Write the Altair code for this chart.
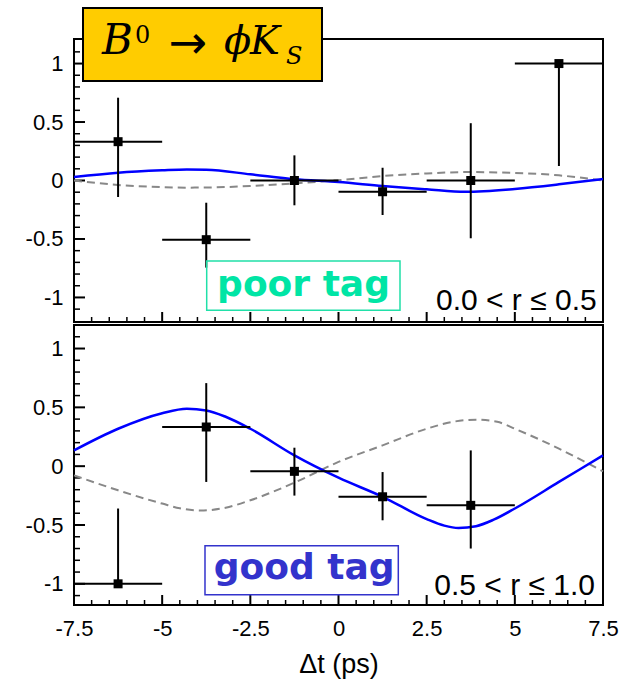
import altair as alt
import pandas as pd

# ---------------- data ----------------
bin_half_width = 1.25

poor_t = [-6.25, -3.75, -1.25, 1.25, 3.75, 6.25]
poor_val = [0.332, -0.506, 0.0, -0.096, 0.0, 1.0]
poor_hi = [0.708, -0.19, 0.215, 0.109, 0.49, 1.0]
poor_lo = [-0.141, -0.745, -0.212, -0.295, -0.494, 0.124]

good_t = [-6.25, -3.75, -1.25, 1.25, 3.75]
good_val = [-1.0, 0.333, -0.044, -0.26, -0.333]
good_hi = [-0.36, 0.706, 0.157, -0.05, 0.134]
good_lo = [-1.0, -0.134, -0.25, -0.46, -0.70]

poor_curve_t = [-7.5, -6.25, -5.0, -4.3, -3.75, -2.5, -1.25, 0.0, 1.25, 2.5, 3.6, 5.0, 6.25, 7.5]
poor_fit = [0.03, 0.067, 0.087, 0.094, 0.092, 0.053, 0.01, -0.013, -0.047, -0.075, -0.097, -0.072,
            -0.033, 0.013]
poor_exp = [0.0, -0.038, -0.056, -0.061, -0.06, -0.047, -0.025, 0.003, 0.038, 0.06, 0.072, 0.065,
            0.044, 0.0]

good_fit_t = [-7.5, -6.25, -5.0, -4.3, -3.75, -3.2, -2.5, -1.25, 0.0, 1.25, 2.5, 3.0, 3.4,
              3.9, 4.4, 5.0, 6.25, 7.5]
good_fit = [0.134, 0.318, 0.45, 0.488, 0.474, 0.42, 0.318, 0.092, -0.098, -0.26, -0.45,
            -0.505, -0.525, -0.51, -0.455, -0.36, -0.134, 0.092]
good_exp_t = [-7.5, -6.25, -5.0, -4.5, -3.9, -3.2, -2.5, -1.25, 0.0, 1.25, 2.5, 3.3, 3.9, 4.5,
              5.0, 6.25, 7.5]
good_exp = [-0.078, -0.205, -0.318, -0.358, -0.377, -0.353, -0.29, -0.14, 0.036, 0.177, 0.318,
            0.38, 0.395, 0.377, 0.318, 0.149, -0.044]

x_tick_labels = [-7.5, -5, -2.5, 0, 2.5, 5, 7.5]
y_tick_labels = [-1, -0.5, 0, 0.5, 1]
x_minor = [round(-7.5 + 0.5 * i, 2) for i in range(31)]
y_minor = [round(-1.1 + 0.1 * i, 2) for i in range(23)]

# ---------------- styling ----------------
FONT = "Liberation Sans"
W = 529
H_TOP = 283
H_BOT = 280
xscale = alt.Scale(domain=[-7.5, 7.5], nice=False, zero=False)
ys_top = alt.Scale(domain=[-1.21, 1.21], nice=False, zero=False)
ys_bot = alt.Scale(domain=[-1.18, 1.20], nice=False, zero=False)

yaxis = alt.Axis(values=y_tick_labels,
                 labelExpr="(datum.value % 1 == 0) ? (datum.value + '\u2009') : ('' + datum.value)",
                 ticks=False, tickSize=0,
                 domain=False, grid=False, labelFont=FONT, labelFontSize=22, labelColor="black",
                 labelPadding=11, title=None)
xaxis_bot = alt.Axis(values=x_tick_labels, labelExpr="'' + datum.value", ticks=False, tickSize=0,
                     domain=False, grid=False, labelFont=FONT, labelFontSize=22, labelColor="black",
                     labelPadding=13, labelFlush=False, labelOverlap=False,
                     title="Δt (ps)", titleFont=FONT, titleFontSize=27, titleFontWeight="normal",
                     titleColor="black", titlePadding=12)

dummy = pd.DataFrame({"k": [0]})


def panel(t, val, lo, hi, fit_t, fit, exp_t, exp, yscale, height, xaxis, annots):
    def X(f):
        return alt.X(f, type="quantitative", scale=xscale, axis=xaxis)

    def Y(f):
        return alt.Y(f, type="quantitative", scale=yscale, axis=yaxis)

    pts = pd.DataFrame({"t": t, "val": val, "lo": lo, "hi": hi,
                        "tlo": [v - bin_half_width for v in t],
                        "thi": [v + bin_half_width for v in t]})
    fit_df = pd.DataFrame({"t": fit_t, "y": fit})
    exp_df = pd.DataFrame({"t": exp_t, "y": exp})
    ymaj = pd.DataFrame({"v": y_tick_labels})
    ymin = pd.DataFrame({"v": [v for v in y_minor if round(v * 2, 3) != round(v * 2)]})
    xmaj = pd.DataFrame({"v": x_tick_labels})
    xmin = pd.DataFrame({"v": [v for v in x_minor if round(v / 2.5, 3) != round(v / 2.5)]})

    layers = [
        alt.Chart(ymaj).mark_rule(color="black", strokeWidth=2).encode(
            y=Y("v"), x=alt.value(0), x2=alt.value(11)),
        alt.Chart(ymin).mark_rule(color="black", strokeWidth=1.5).encode(
            y=Y("v"), x=alt.value(0), x2=alt.value(6)),
        alt.Chart(xmaj).mark_rule(color="black", strokeWidth=2).encode(
            x=X("v"), y=alt.value(height), y2=alt.value(height - 10)),
        alt.Chart(xmin).mark_rule(color="black", strokeWidth=1.5).encode(
            x=X("v"), y=alt.value(height), y2=alt.value(height - 5)),
        alt.Chart(exp_df).mark_line(color="#888888", strokeWidth=2, strokeDash=[8, 5],
                                    interpolate="monotone").encode(x=X("t"), y=Y("y")),
        alt.Chart(fit_df).mark_line(color="#0000FF", strokeWidth=2.5,
                                    interpolate="monotone").encode(x=X("t"), y=Y("y")),
        alt.Chart(pts).mark_rule(color="black", strokeWidth=2).encode(
            x=X("tlo"), x2="thi", y=Y("val")),
        alt.Chart(pts).mark_rule(color="black", strokeWidth=2).encode(
            x=X("t"), y=Y("lo"), y2="hi"),
        alt.Chart(pts).mark_square(color="black", size=81, opacity=1).encode(
            x=X("t"), y=Y("val")),
    ]
    layers += annots
    return alt.layer(*layers).properties(width=W, height=height)


def box(x1, x2, y1, y2, stroke, fill="transparent", sw=2):
    return alt.Chart(dummy).mark_rect(fill=fill, stroke=stroke, strokeWidth=sw).encode(
        x=alt.value(x1), x2=alt.value(x2), y=alt.value(y1), y2=alt.value(y2))


def txt(s, x, y, size, color="black", font=FONT, weight="normal", style="normal", align="left"):
    return alt.Chart(dummy).mark_text(text=s, font=font, fontSize=size, fontWeight=weight,
                                      fontStyle=style, color=color, align=align,
                                      baseline="alphabetic").encode(
        x=alt.value(x), y=alt.value(y))


SERIF = "DejaVu Serif"
top_annots = [
    box(132.7, 326, 222, 271.3, "#20E0A8", sw=1.5),
    txt("poor tag", 229.5, 257, 36, color="#00E5A5", font="DejaVu Sans", weight="bold", align="center"),
    txt("0.0 < r ≤ 0.5", 522.7, 271.3, 30, align="right"),
    box(9, 248, -31, 42, "black", fill="#FFCC00", sw=2),
    txt("B", 28, 15, 42, font=SERIF, style="italic"),
    txt("0", 61, 4, 24, font=SERIF),
    txt("→", 114, 19, 46, font="DejaVu Sans", align="center"),
    txt("ϕ", 150, 15, 40, font=SERIF, style="italic"),
    txt("K", 176, 15, 40, font=SERIF, style="italic"),
    txt("S", 212, 25, 24, font=SERIF, style="italic"),
]
bot_annots = [
    box(131, 324.3, 220.7, 269.7, "#3333CC", sw=1.5),
    txt("good tag", 230.2, 254, 36, color="#3333CC", font="DejaVu Sans", weight="bold", align="center"),
    txt("0.5 < r ≤ 1.0", 521, 270, 30, align="right"),
]

top = panel(poor_t, poor_val, poor_lo, poor_hi, poor_curve_t, poor_fit, poor_curve_t, poor_exp,
            ys_top, H_TOP, None, top_annots)
bot = panel(good_t, good_val, good_lo, good_hi, good_fit_t, good_fit, good_exp_t, good_exp,
            ys_bot, H_BOT, xaxis_bot, bot_annots)

chart = alt.vconcat(top, bot, spacing=0).properties(
    padding={"left": 24, "top": 6, "right": 8, "bottom": 4},
    background="white",
).configure_view(stroke="black", strokeWidth=2).configure_axis(
    titleFont=FONT, titleFontSize=27, titleFontWeight="normal", titleColor="black"
)

chart.save("out.html", embed_options={"renderer": "svg", "actions": False})
